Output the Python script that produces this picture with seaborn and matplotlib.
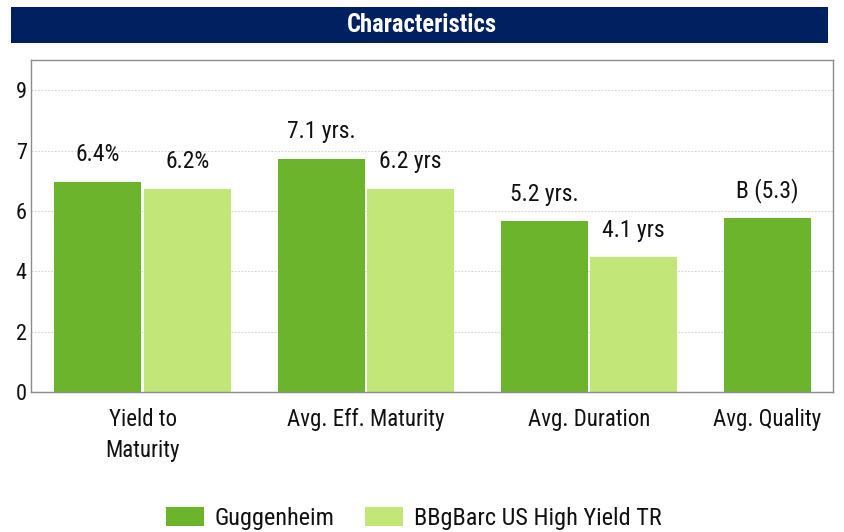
import numpy as np
import pandas as pd
import matplotlib
matplotlib.use("Agg")
import matplotlib.pyplot as plt
from matplotlib import font_manager
from matplotlib.patches import Rectangle
from matplotlib.ticker import FuncFormatter
import seaborn as sns

# ---- data -------------------------------------------------------------
categories = ["Yield to\nMaturity", "Avg. Eff. Maturity", "Avg. Duration", "Avg. Quality"]
series = ["Guggenheim", "BBgBarc US High Yield TR"]
guggenheim_values = [6.4, 7.1, 5.2, 5.3]
index_values = [6.2, 6.2, 4.1, np.nan]
guggenheim_labels = ["6.4%", "7.1 yrs.", "5.2 yrs.", "B (5.3)"]
index_labels = ["6.2%", "6.2 yrs", "4.1 yrs", ""]
y_ticks = [0, 1.84, 3.68, 5.52, 7.36, 9.2]
colors = ["#6CB42B", "#C2E677"]
title = "Characteristics"

df = pd.DataFrame({
    "category": categories * 2,
    "series": [series[0]] * 4 + [series[1]] * 4,
    "value": guggenheim_values + index_values,
})

# ---- fonts ------------------------------------------------------------
sns.set_theme(style="white")
names = {f.name for f in font_manager.fontManager.ttflist}
fam = [n for n in ["Roboto Condensed", "Archivo Narrow", "Liberation Sans", "DejaVu Sans"] if n in names]
plt.rcParams["font.family"] = fam
txt = "#111111"

fig = plt.figure(figsize=(8.44, 5.32), dpi=100)
ax = fig.add_axes([31 / 844, 1 - 392 / 532, (833 - 31) / 844, (392 - 60) / 532])

sns.barplot(data=df, x="category", y="value", hue="series",
            order=categories, hue_order=series, palette=colors,
            width=0.8, gap=0.025, saturation=1, errorbar=None, ax=ax,
            edgecolor="none", legend=True)

# value labels above each bar
for cont, labels in zip(ax.containers, [guggenheim_labels, index_labels]):
    for bar, lab in zip(cont, labels):
        h = bar.get_height()
        if not lab or np.isnan(h):
            continue
        ax.annotate(lab, (bar.get_x() + bar.get_width() / 2, h),
                    xytext=(0, 15), textcoords="offset points",
                    ha="center", va="baseline", fontsize=17, color=txt)

# axes styling
ax.set_ylim(0, 10.12)
ax.set_xlim(-0.5, 3.095)
ax.set_yticks(y_ticks)
ax.yaxis.set_major_formatter(FuncFormatter(lambda v, p: f"{v:.0f}"))
ax.set_xticks([0, 1, 2, 2.8])
ax.set_xticklabels(categories, linespacing=1.45)
ax.set_xlabel("")
ax.set_ylabel("")
ax.tick_params(axis="y", direction="in", length=7.5, width=0.8, color="#A0A0A0",
               labelsize=16, labelcolor=txt, pad=3)
ax.tick_params(axis="x", length=0, labelsize=16.5, labelcolor=txt, pad=11.5)
ax.grid(axis="y", color="#D4D4D4", linestyle=(0, (1.5, 1.5)), linewidth=0.8)
ax.set_axisbelow(True)
for side in ["left", "bottom", "top", "right"]:
    ax.spines[side].set_visible(True)
    ax.spines[side].set_color("#8C8C8C")
    ax.spines[side].set_linewidth(1.0)

# legend below the plot
handles, labels = ax.get_legend_handles_labels()
ax.get_legend().remove()
fig.legend(handles, labels, loc="center", bbox_to_anchor=(0.49, 1 - 518 / 532),
           ncol=2, frameon=False, fontsize=17.5, handlelength=1.56, handleheight=0.82,
           handletextpad=0.45, columnspacing=1.25, labelcolor=txt)

# title banner
fig.patches.append(Rectangle((11 / 844, 1 - 43 / 532), (828 - 11) / 844, 36 / 532,
                             transform=fig.transFigure, facecolor="#00205F",
                             edgecolor="none", zorder=0))
fig.text(422 / 844, 1 - 25 / 532, title, ha="center", va="center",
         color="white", fontsize=17.7, fontweight="bold")

fig.savefig("out.png", dpi=100, facecolor="white")
